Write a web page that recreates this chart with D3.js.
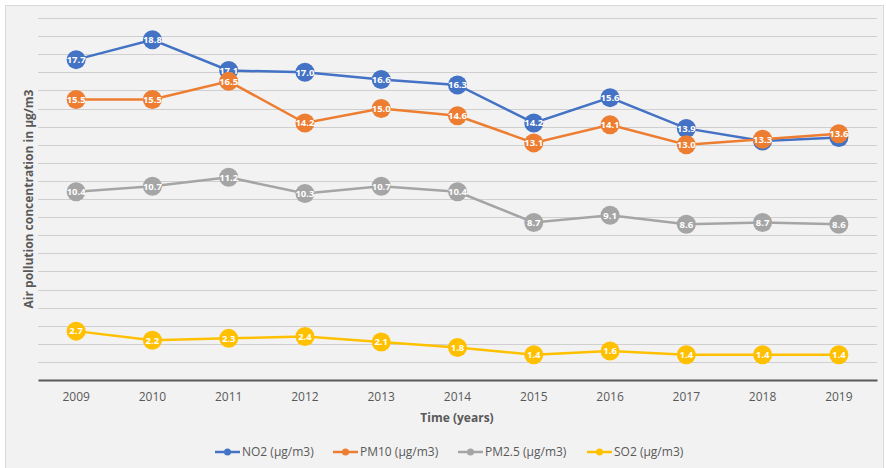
<!DOCTYPE html>
<html><head><meta charset="utf-8">
<script src="https://cdn.jsdelivr.net/npm/d3@7"></script>
<style>
html,body{margin:0;padding:0;background:#fff;}
text{font-family:"Open Sans",Lato,sans-serif;}
</style></head>
<body><svg id="c" width="886" height="468"></svg>
<script>
const years = ["2009","2010","2011","2012","2013","2014","2015","2016","2017","2018","2019"];
const seriesNames = ["NO2 (µg/m3)","PM10 (µg/m3)","PM2.5 (µg/m3)","SO2 (µg/m3)"];
const no2  = [17.7,18.8,17.1,17.0,16.6,16.3,14.2,15.6,13.9,13.2,13.4];
const pm10 = [15.5,15.5,16.5,14.2,15.0,14.6,13.1,14.1,13.0,13.3,13.6];
const pm25 = [10.4,10.7,11.2,10.3,10.7,10.4,8.7,9.1,8.6,8.7,8.6];
const so2  = [2.7,2.2,2.3,2.4,2.1,1.8,1.4,1.6,1.4,1.4,1.4];
const colors = ["#4472C4","#ED7D31","#A5A5A5","#FFC000"];
const gridTicks = d3.range(0,21,1);

const series = [no2,pm10,pm25,so2].map((v,i)=>({name:seriesNames[i],values:v,color:colors[i]}));
const svg = d3.select("#c");
svg.append("rect").attr("x",5.5).attr("y",5.5).attr("width",878).attr("height",470)
  .attr("fill","#f2f2f2").attr("stroke","#d9d9d9");

const x = d3.scaleBand().domain(years).range([38,877]);
const y = d3.scaleLinear().domain([0,20]).range([380,18]);
const cx = i => x(years[i]) + x.bandwidth()/2;

// gridlines
svg.append("g").selectAll("line").data(gridTicks.filter(d=>d>0)).join("line")
  .attr("x1",38).attr("x2",877).attr("y1",d=>Math.round(y(d))+0.5).attr("y2",d=>Math.round(y(d))+0.5)
  .attr("stroke","#cfcfcf").attr("stroke-width",1);

// x axis
const xAxis = svg.append("g").attr("transform","translate(0,380)")
  .call(d3.axisBottom(x).tickSize(0).tickPadding(12));
xAxis.select(".domain").attr("stroke","#595959").attr("stroke-width",2);
xAxis.selectAll("text").attr("fill","#595959").style("font-size","12px").style("font-family","'Open Sans',sans-serif");

// axis titles
svg.append("text").attr("x",457).attr("y",422).attr("text-anchor","middle")
  .attr("fill","#595959").style("font-size","12px").style("font-weight","bold").text("Time (years)");
svg.append("text").attr("transform","translate(33,199) rotate(-90)").attr("text-anchor","middle")
  .attr("fill","#595959").style("font-size","12px").style("font-weight","bold").text("Air pollution concentration in µg/m3");

const line = d3.line().x((d,i)=>cx(i)).y(d=>y(d));
const gs = svg.append("g").selectAll("g").data(series).join("g");
gs.append("path").attr("d",d=>line(d.values)).attr("fill","none").attr("stroke",d=>d.color).attr("stroke-width",2.5);
gs.each(function(s,si){
  const g = d3.select(this);
  g.selectAll("circle").data(s.values).join("circle")
    .attr("cx",(d,i)=>cx(i)).attr("cy",d=>y(d)).attr("r",9.5).attr("fill",s.color);
  // a label fully covered by a later series' marker is not visible in the original
  const hidden = (d,i) => series.slice(si+1).some(o => Math.abs(y(o.values[i]) - y(d)) < 6);
  g.selectAll("text").data(s.values.map((v,i)=>({v,i})).filter(p=>!hidden(p.v,p.i))).join("text")
    .attr("x",p=>cx(p.i)).attr("y",p=>y(p.v)).attr("dy","0.35em")
    .attr("text-anchor","middle").attr("fill","#fff").style("font-size","9.5px").style("font-weight","bold")
    .text(p=>p.v.toFixed(1));
});

// legend
const lx = [215,333,458,587];
const lg = svg.append("g").selectAll("g").data(series).join("g").attr("transform",(d,i)=>`translate(${lx[i]},452)`);
lg.append("line").attr("x1",0).attr("x2",25).attr("stroke",d=>d.color).attr("stroke-width",2.5);
lg.append("circle").attr("cx",12.5).attr("r",3.5).attr("fill",d=>d.color);
lg.append("text").attr("x",27).attr("dy","0.35em").attr("fill","#595959").style("font-size","12px").text(d=>d.name);
</script></body></html>
